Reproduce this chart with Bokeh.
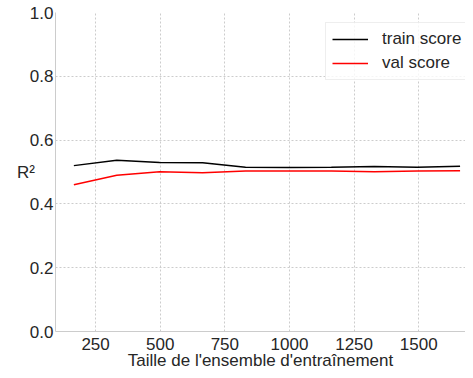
from bokeh.plotting import figure
from bokeh.models import Range1d, Legend, LegendItem, FixedTicker, NumeralTickFormatter
from bokeh.embed import file_html
from bokeh.resources import INLINE

train_sizes = [166, 332, 498, 664, 830, 996, 1162, 1328, 1494, 1660]
train_score = [0.520, 0.537, 0.530, 0.529, 0.515, 0.514, 0.515, 0.517, 0.515, 0.518]
val_score = [0.460, 0.490, 0.501, 0.498, 0.503, 0.503, 0.503, 0.501, 0.503, 0.504]
x_ticks = [250, 500, 750, 1000, 1250, 1500]
y_ticks = [0.0, 0.2, 0.4, 0.6, 0.8, 1.0]

FONT = "Liberation Sans"
TXT = "#262626"
p = figure(width=465, height=372, output_backend="svg", toolbar_location=None,
           x_range=Range1d(95, 1681), y_range=Range1d(0, 1),
           min_border_left=55, min_border_top=12, min_border_right=0, min_border_bottom=30)
p.outline_line_color = None
p.background_fill_color = "white"

r1 = p.line(train_sizes, train_score, line_color="black", line_width=1.5)
r2 = p.line(train_sizes, val_score, line_color="red", line_width=1.5)

for ax in (p.xaxis[0], p.yaxis[0]):
    ax.axis_line_color = "#cccccc"
    ax.axis_line_width = 1
    ax.major_tick_line_color = None
    ax.minor_tick_line_color = None
    ax.major_tick_out = 0
    ax.major_tick_in = 0
    ax.major_label_text_font = FONT
    ax.major_label_text_font_size = "17px"
    ax.major_label_text_color = TXT
    ax.axis_label_text_font = FONT
    ax.axis_label_text_font_size = "17px"
    ax.axis_label_text_font_style = "normal"
    ax.axis_label_text_color = TXT

p.xaxis.ticker = FixedTicker(ticks=x_ticks)
p.yaxis.ticker = FixedTicker(ticks=y_ticks)
p.yaxis.formatter = NumeralTickFormatter(format="0.0")
p.xaxis.axis_label = "Taille de l'ensemble d'entraînement"
p.xaxis.major_label_standoff = 6
p.xaxis.axis_label_standoff = -2
p.yaxis.major_label_standoff = 2
p.yaxis.axis_label = "R²"
try:
    p.yaxis.axis_label_orientation = "horizontal"
except Exception:
    pass
p.yaxis.axis_label_standoff = -8

for g in (p.xgrid[0], p.ygrid[0]):
    g.grid_line_color = "#cccccc"
    g.grid_line_dash = "2 2"
    g.grid_line_width = 1

legend = Legend(items=[LegendItem(label="train score", renderers=[r1]),
                       LegendItem(label="val score", renderers=[r2])],
                location=(270, 251))
legend.label_text_font = FONT
legend.label_text_font_size = "17px"
legend.label_text_color = TXT
legend.border_line_color = "#dddddd"
legend.border_line_width = 1
legend.glyph_width = 36
legend.label_standoff = 14
legend.spacing = 4
legend.padding = 6
legend.margin = 0
legend.background_fill_alpha = 0.8
p.add_layout(legend)

open("out.html", "w").write(file_html(p, INLINE))
